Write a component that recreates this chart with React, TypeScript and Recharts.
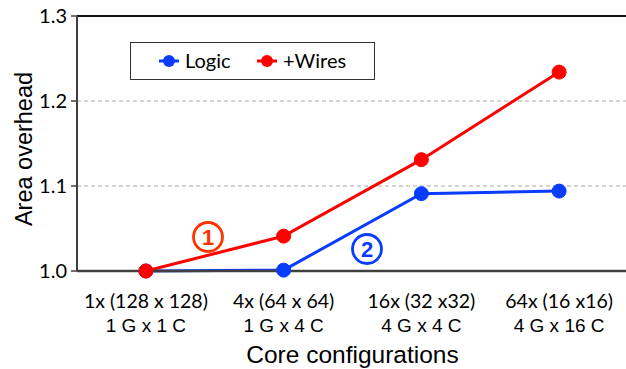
import { LineChart, Line, XAxis, YAxis, ReferenceLine } from 'recharts';

const categories = ['1x (128 x 128)', '4x (64 x 64)', '16x (32 x32)', '64x (16 x16)'];
const subLabels = ['1 G x 1 C', '1 G x 4 C', '4 G x 4 C', '4 G x 16 C'];
const logic = [1.0, 1.001, 1.091, 1.094];
const wires = [1.0, 1.041, 1.131, 1.234];
const yTicks = [1.0, 1.1, 1.2, 1.3];
const seriesNames = ['Logic', '+Wires'];

const BLUE = '#0a3cff';
const RED = '#ff0000';
const TICK_FONT = 'Lato, "Open Sans", sans-serif';
const SANS = '"Liberation Sans", Arial, sans-serif';

const data = categories.map((c, i) => ({
  x: i + 0.5,
  name: c,
  logic: logic[i],
  wires: wires[i],
}));

const CategoryTick = (props: any) => {
  const { x, y, payload } = props;
  const i = Math.round(payload.value - 0.5);
  return (
    <g transform={`translate(${x},${y})`}>
      <text x={0} y={29} textAnchor="middle" fontFamily={TICK_FONT} fontSize={19.5} fill="#000">
        {categories[i]}
      </text>
      <text x={0} y={53} textAnchor="middle" fontFamily={SANS} fontSize={19} fill="#000">
        {subLabels[i]}
      </text>
    </g>
  );
};

const YTitle = () => (
  <text
    x={32}
    y={149}
    transform="rotate(-90 32 149)"
    textAnchor="middle"
    fontFamily={SANS}
    fontSize={23.5}
    fill="#000"
  >
    Area overhead
  </text>
);

const LegendBox = () => (
  <div
    style={{
      position: 'absolute',
      left: 130,
      top: 42,
      width: 245,
      height: 38,
      border: '1.5px solid #333',
      boxSizing: 'border-box',
      background: '#fff',
      fontFamily: TICK_FONT,
      fontSize: 20,
    }}
  >
    {[
      { label: seriesNames[0], color: BLUE, cx: 38 },
      { label: seriesNames[1], color: RED, cx: 136 },
    ].map((it) => (
      <div key={it.label}>
        <svg width={24} height={16} style={{ position: 'absolute', left: it.cx - 12, top: 10 }}>
          <line x1={2} y1={8} x2={22} y2={8} stroke={it.color} strokeWidth={3} />
          <circle cx={12} cy={8} r={6} fill={it.color} />
        </svg>
        <span style={{ position: 'absolute', left: it.cx + 16, top: 5, lineHeight: '24px' }}>{it.label}</span>
      </div>
    ))}
  </div>
);

const Marker = ({ cx, cy, color, n }: { cx: number; cy: number; color: string; n: string }) => (
  <g>
    <circle cx={cx} cy={cy} r={14.5} fill="none" stroke={color} strokeWidth={2.8} />
    <text x={cx} y={cy + 8} textAnchor="middle" fontFamily={SANS} fontWeight="bold" fontSize={22} fill={color}>
      {n}
    </text>
  </g>
);

export default function App() {
  return (
    <div style={{ position: 'absolute', left: 0, top: 0, width: 626, height: 369, overflow: 'hidden', background: '#fff' }}>
      <LineChart width={628} height={369} data={data} margin={{ top: 16, right: 0, bottom: 0, left: 0 }}>
        <XAxis
          dataKey="x"
          type="number"
          domain={[0, 4]}
          ticks={[0.5, 1.5, 2.5, 3.5]}
          tick={<CategoryTick />}
          tickLine={false}
          axisLine={{ stroke: '#404040', strokeWidth: 2.5 }}
          height={98}
          label={{
            value: 'Core configurations',
            position: 'insideBottom',
            offset: 6,
            fontFamily: SANS,
            fontSize: 24.5,
            fill: '#000',
          }}
        />
        <XAxis
          xAxisId="bounds"
          dataKey="x"
          type="number"
          domain={[0, 4]}
          ticks={[1, 2, 3]}
          mirror
          height={0}
          axisLine={false}
          tickSize={7}
          tickLine={{ stroke: '#404040', strokeWidth: 1.5 }}
          tick={() => <g />}
        />
        <YAxis
          domain={[1.0, 1.3]}
          ticks={yTicks}
          width={77}
          tickSize={6}
          tickMargin={4}
          tickFormatter={(v: number) => v.toFixed(1)}
          tick={{ fontFamily: TICK_FONT, fontSize: 20, fill: '#000' }}
          tickLine={{ stroke: '#404040', strokeWidth: 1.5 }}
          axisLine={{ stroke: '#404040', strokeWidth: 2 }}
          label={<YTitle />}
        />
        <ReferenceLine y={1.3} stroke="#111" strokeWidth={2} />
        <ReferenceLine y={1.2} stroke="#aaa" strokeWidth={1.2} strokeDasharray="4 3" />
        <ReferenceLine y={1.1} stroke="#aaa" strokeWidth={1.2} strokeDasharray="4 3" />
        <Line
          dataKey="logic"
          name={seriesNames[0]}
          stroke={BLUE}
          strokeWidth={3}
          dot={{ r: 7, fill: BLUE, stroke: BLUE, strokeWidth: 1 }}
          isAnimationActive={false}
        />
        <Line
          dataKey="wires"
          name={seriesNames[1]}
          stroke={RED}
          strokeWidth={3}
          dot={{ r: 7, fill: RED, stroke: RED, strokeWidth: 1 }}
          isAnimationActive={false}
        />
      </LineChart>
      <LegendBox />
      <svg width={626} height={369} style={{ position: 'absolute', left: 0, top: 0, pointerEvents: 'none' }}>
        <Marker cx={208} cy={237} color="#ff3300" n="1" />
        <Marker cx={367} cy={249} color={BLUE} n="2" />
      </svg>
    </div>
  );
}
